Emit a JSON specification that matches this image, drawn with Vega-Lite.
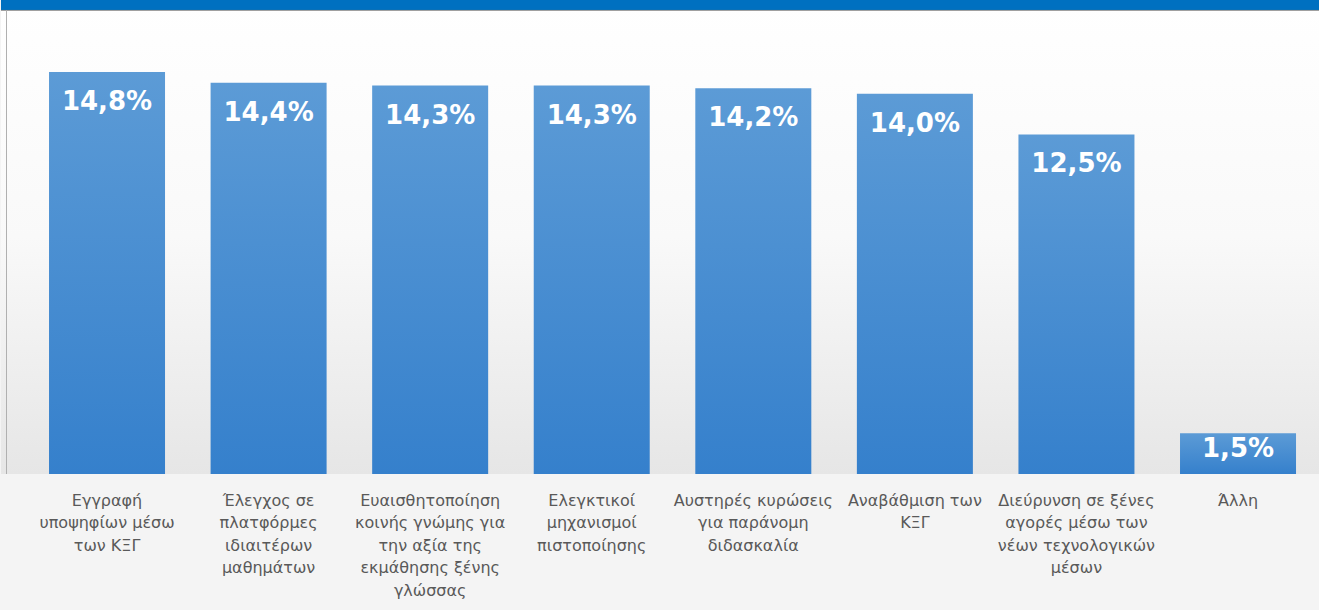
{
  "$schema": "https://vega.github.io/schema/vega-lite/v6.json",
  "width": 1319,
  "height": 474,
  "padding": {"left": 0, "top": 0, "right": 0, "bottom": 12},
  "background": "#f4f4f4",
  "config": {"view": {"stroke": null}},
  "data": {"values": [
    {"cat": "Εγγραφή|υποψηφίων μέσω|των ΚΞΓ", "value": 14.8, "label": "14,8%"},
    {"cat": "Έλεγχος σε|πλατφόρμες|ιδιαιτέρων|μαθημάτων", "value": 14.4, "label": "14,4%"},
    {"cat": "Ευαισθητοποίηση|κοινής γνώμης για|την αξία της|εκμάθησης ξένης|γλώσσας", "value": 14.3, "label": "14,3%"},
    {"cat": "Ελεγκτικοί|μηχανισμοί|πιστοποίησης", "value": 14.3, "label": "14,3%"},
    {"cat": "Αυστηρές κυρώσεις|για παράνομη|διδασκαλία", "value": 14.2, "label": "14,2%"},
    {"cat": "Αναβάθμιση των|ΚΞΓ", "value": 14.0, "label": "14,0%"},
    {"cat": "Διεύρυνση σε ξένες|αγορές μέσω των|νέων τεχνολογικών|μέσων", "value": 12.5, "label": "12,5%"},
    {"cat": "Άλλη", "value": 1.5, "label": "1,5%"}
  ]},
  "encoding": {
    "x": {
      "field": "cat", "type": "nominal", "sort": null,
      "scale": {"paddingInner": 0.282, "paddingOuter": 0.2228, "align": 0.667},
      "axis": {
        "title": null, "domain": false, "ticks": false, "labelAngle": 0,
        "labelExpr": "split(datum.label, '|')",
        "labelFont": "DejaVu Sans", "labelFontSize": 16, "labelColor": "#595959",
        "labelLineHeight": 22.5, "labelPadding": 18, "labelOverlap": false,
        "labelBaseline": "top", "labelLimit": 0
      }
    },
    "y": {
      "field": "value", "type": "quantitative",
      "scale": {"domain": [0, 17.45], "nice": false, "zero": true},
      "axis": null
    }
  },
  "layer": [
    {
      "mark": {"type": "rect", "fill": {"gradient": "linear", "x1": 0, "y1": 0, "x2": 0, "y2": 1,
        "stops": [{"offset": 0, "color": "#ffffff"}, {"offset": 0.5, "color": "#f9f9f9"}, {"offset": 1, "color": "#e6e6e6"}]}},
      "encoding": {"x": {"value": 0}, "x2": {"value": 1319}, "y": {"value": 0}, "y2": {"value": 474}}
    },
    {
      "mark": {"type": "rect", "color": "#0070C0"},
      "encoding": {"x": {"value": 0}, "x2": {"value": 1319}, "y": {"datum": 17.45}, "y2": {"datum": 17.082}}
    },
    {
      "mark": {"type": "rule", "color": "#a0a0a0", "strokeWidth": 1},
      "encoding": {"x": {"value": 0}, "x2": {"value": 1319}, "y": {"datum": 17.064}}
    },
    {
      "mark": {"type": "rule", "color": "#b0b0b0", "strokeWidth": 1},
      "encoding": {"x": {"value": 5.5}, "y": {"datum": 17.064}, "y2": {"datum": 0}}
    },
    {
      "mark": {"type": "bar", "fill": {"gradient": "linear", "x1": 0, "y1": 0, "x2": 0, "y2": 1,
        "stops": [{"offset": 0, "color": "#5C9BD6"}, {"offset": 1, "color": "#3580CC"}]}}
    },
    {
      "transform": [{"filter": "datum.value >= 5"}],
      "mark": {"type": "text", "color": "white", "font": "DejaVu Sans", "fontSize": 26, "fontWeight": "bold", "baseline": "alphabetic", "dy": 38},
      "encoding": {"text": {"field": "label"}}
    },
    {
      "transform": [{"filter": "datum.value < 5"}],
      "mark": {"type": "text", "color": "white", "font": "DejaVu Sans", "fontSize": 26, "fontWeight": "bold", "baseline": "alphabetic", "dy": 24},
      "encoding": {"text": {"field": "label"}}
    }
  ]
}
